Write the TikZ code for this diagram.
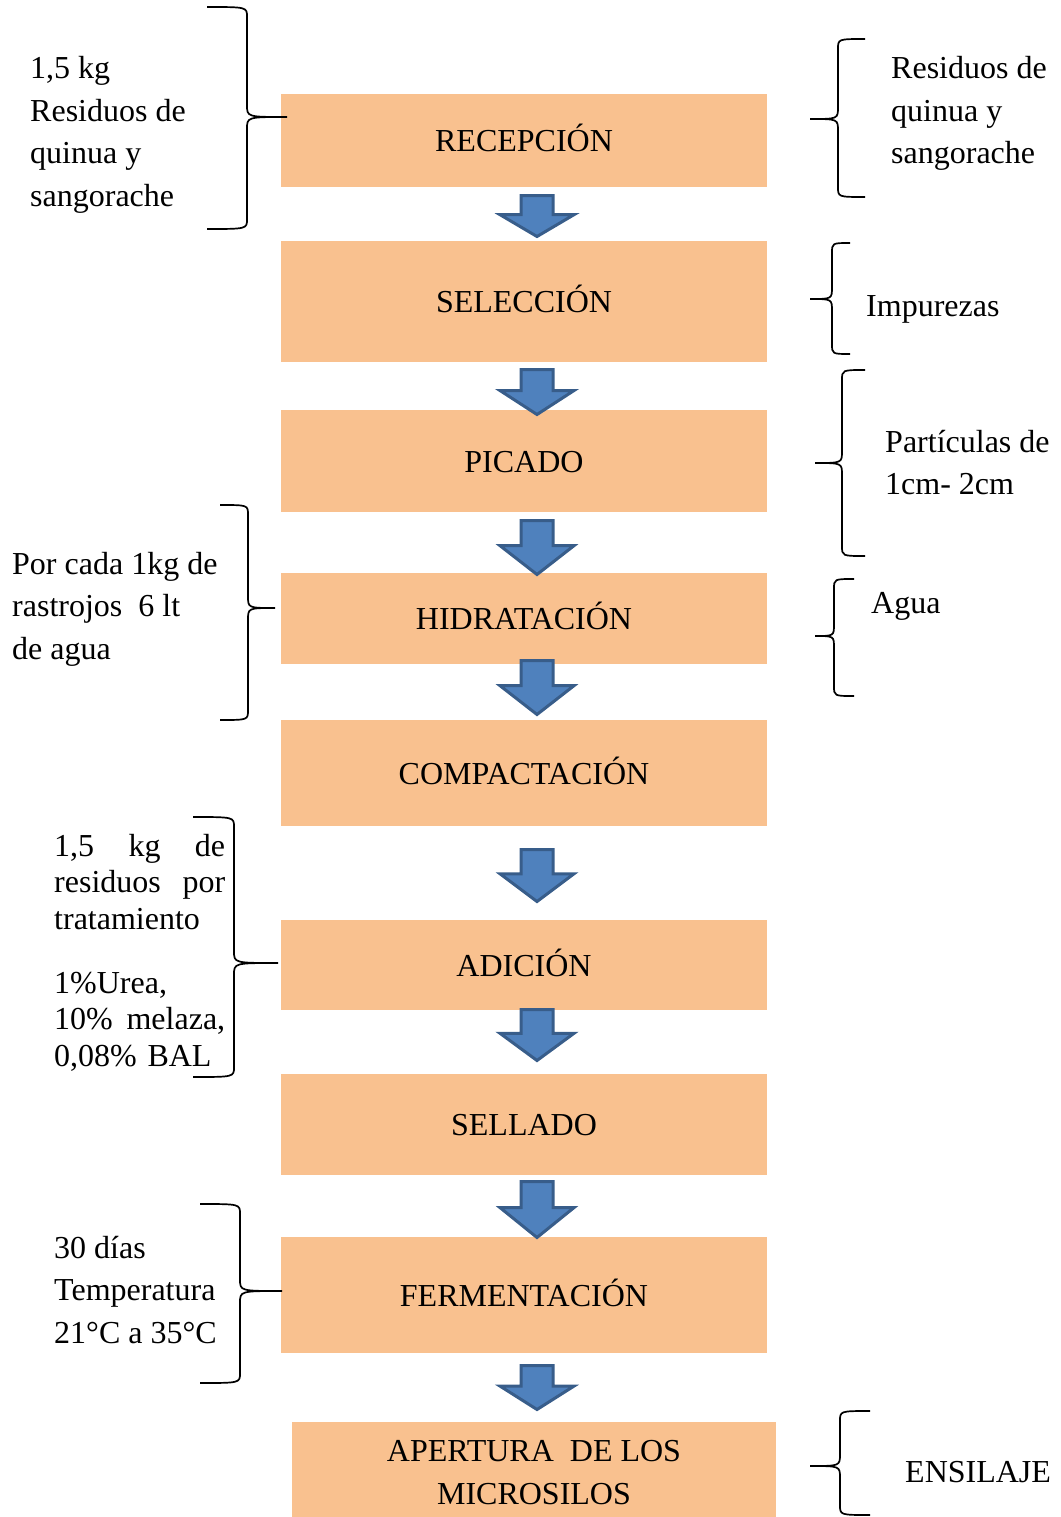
\documentclass[tikz,border=0pt]{standalone}
\usepackage{fontspec}
\setmainfont{Liberation Serif}
\usepackage{tikz}

\definecolor{cajafill}{RGB}{249,193,143}
\definecolor{flechafill}{RGB}{79,129,189}
\definecolor{flechaborde}{RGB}{56,93,138}

\tikzset{
  caja/.style={fill=cajafill, minimum width=486pt, inner sep=0pt, align=center,
    text height=22pt, text depth=0pt},
  nota/.style={anchor=base west, inner sep=0pt, align=left},
  llave/.style={line width=1.7pt, black},
  flecha/.style={fill=flechafill, draw=flechaborde, line width=3pt}
}

% llave: {x extremo}{x vertical}{x punta}{y arriba}{y punta}{y abajo}
\newcommand{\llave}[6]{%
  \draw[llave] (#1,#4) .. controls (#2,#4) .. (#2,{#4+10}) -- (#2,{#5-12})
    .. controls (#2,#5) .. (#3,#5) .. controls (#2,#5) .. (#2,{#5+12})
    -- (#2,{#6-10}) .. controls (#2,#6) .. (#1,#6);}
% flecha: {y arriba}{y punta}
\newcommand{\flecha}[2]{%
  \draw[flecha] (521,{#1+1.6}) -- (553,{#1+1.6}) -- (553,{#1+0.46*(#2-#1)})
    -- (574,{#1+0.46*(#2-#1)}) -- (537,{#2-2.5}) -- (500,{#1+0.46*(#2-#1)})
    -- (521,{#1+0.46*(#2-#1)}) -- cycle;}

\begin{document}
\begin{tikzpicture}[x=1pt, y=-1pt, font=\fontsize{32}{42.5}\selectfont]

	\useasboundingbox (0,0) rectangle (1060,1517);

	% etapas
	\node[caja, minimum height=93pt] (recepcion) at (524,140.5) {RECEPCIÓN};
	\node[caja, minimum height=121pt] (seleccion) at (524,301.5) {SELECCIÓN};
	\node[caja, minimum height=102pt] (picado) at (524,461) {PICADO};
	\node[caja, minimum height=91pt] (hidratacion) at (524,618.5) {HIDRATACIÓN};
	\node[caja, minimum height=106pt] (compactacion) at (524,773) {COMPACTACIÓN};
	\node[caja, minimum height=90pt] (adicion) at (524,965) {ADICIÓN};
	\node[caja, minimum height=101pt] (sellado) at (524,1124.5) {SELLADO};
	\node[caja, minimum height=116pt] (fermentacion) at (524,1295) {FERMENTACIÓN};
	\node[caja, minimum width=484pt, minimum height=95pt, text height=69pt] (apertura)
		at (534,1469.5) {APERTURA\ \ DE LOS\\MICROSILOS};

	% flechas
	\flecha{194}{239}
	\flecha{368}{417}
	\flecha{519}{577}
	\flecha{659}{717}
	\flecha{848}{904}
	\flecha{1008}{1063}
	\flecha{1180}{1240}
	\flecha{1364}{1412}

	% llaves
	\llave{207}{247}{287}{7}{117}{229}
	\llave{865}{838}{810}{39}{119}{197}
	\llave{850}{832}{810}{243}{299}{354}
	\llave{865}{842}{815}{370}{463}{556}
	\llave{854}{834}{815}{579}{636}{696}
	\llave{220}{248}{275}{505}{608}{720}
	\llave{193}{234}{278}{817}{963}{1077}
	\llave{200}{240}{282}{1204}{1291}{1383}
	\llave{870}{840}{810}{1411}{1466}{1515}

	% notas (base = ultima linea)
	\node[nota] (entrada) at (30,206.5) {1,5 kg\\Residuos de\\quinua y\\sangorache};
	\node[nota] (residuos) at (891,164) {Residuos de\\quinua y\\sangorache};
	\node[nota] (impurezas) at (866,316) {Impurezas};
	\node[nota] (particulas) at (885,494.5) {Partículas de\\1cm- 2cm};
	\node[nota] (agua) at (871,613) {Agua};
	\node[nota] (rastrojos) at (12,659) {Por cada 1kg de\\rastrojos\ \ 6 lt\\de agua};
	\node[nota, text width=171pt, font=\fontsize{32}{36.5}\selectfont] (dosis) at (54,856)
		{1,5\hfill kg\hfill de\\residuos\hfill por\\tratamiento\\[27.5pt]1\%Urea,\\10\%\hfill melaza,\\0,08\% BAL};
	\node[nota] (tiempo) at (54,1343) {30 días\\Temperatura\\21°C a 35°C};
	\node[nota] (ensilaje) at (905,1482) {ENSILAJE};

\end{tikzpicture}
\end{document}
